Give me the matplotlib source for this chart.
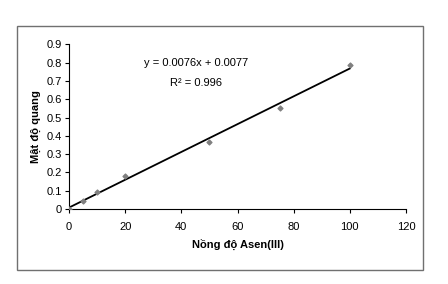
import matplotlib
matplotlib.use("Agg")
import matplotlib.pyplot as plt
from matplotlib.patches import Rectangle
import numpy as np

plt.rcParams['font.family'] = ['Liberation Sans', 'DejaVu Sans']

conc = [0, 5, 10, 20, 50, 75, 100]
absorb = [0.0, 0.045, 0.093, 0.18, 0.364, 0.55, 0.787]
slope = 0.0076
intercept = 0.0077
x_ticks = [0, 20, 40, 60, 80, 100, 120]
y_ticks = [0, 0.1, 0.2, 0.3, 0.4, 0.5, 0.6, 0.7, 0.8, 0.9]
y_ticklabels = ['0', '0.1', '0.2', '0.3', '0.4', '0.5', '0.6', '0.7', '0.8', '0.9']

fig = plt.figure(figsize=(4.48, 2.84), dpi=100)
fig.patches.append(Rectangle((17/448, 1-270/284), (423-17)/448, (270-26)/284,
                             transform=fig.transFigure, fill=False,
                             edgecolor='#707070', linewidth=1.0))
ax = fig.add_axes([69/448, 1-209/284, (406-69)/448, (209-44.3)/284])

xs = np.array([min(conc), max(conc)])
ax.plot(xs, slope*xs + intercept, color='black', linewidth=1.3, zorder=2)
ax.scatter(conc, absorb, marker='D', s=6, color='#808080', zorder=3)

ax.set_xlim(0, 120)
ax.set_ylim(0, 0.9)
ax.set_xticks(x_ticks)
ax.set_yticks(y_ticks)
ax.set_yticklabels(y_ticklabels)
for s in ['top', 'right']:
    ax.spines[s].set_visible(False)
for s in ['left', 'bottom']:
    ax.spines[s].set_color('black')
    ax.spines[s].set_linewidth(0.8)
ax.tick_params(direction='out', length=3, width=0.8, labelsize=8, colors='black', pad=2)
ax.tick_params(axis='x', pad=6)
ax.set_xlabel('Nồng độ Asen(III)', fontsize=8, fontweight='bold', labelpad=5)
ax.set_ylabel('Mật độ quang', fontsize=8, fontweight='bold', labelpad=4)

ax.text(45.2, 0.80, 'y = 0.0076x + 0.0077', fontsize=8, ha='center', va='center')
ax.text(45.2, 0.69, 'R² = 0.996', fontsize=8, ha='center', va='center')

fig.savefig('out.png', dpi=100)
